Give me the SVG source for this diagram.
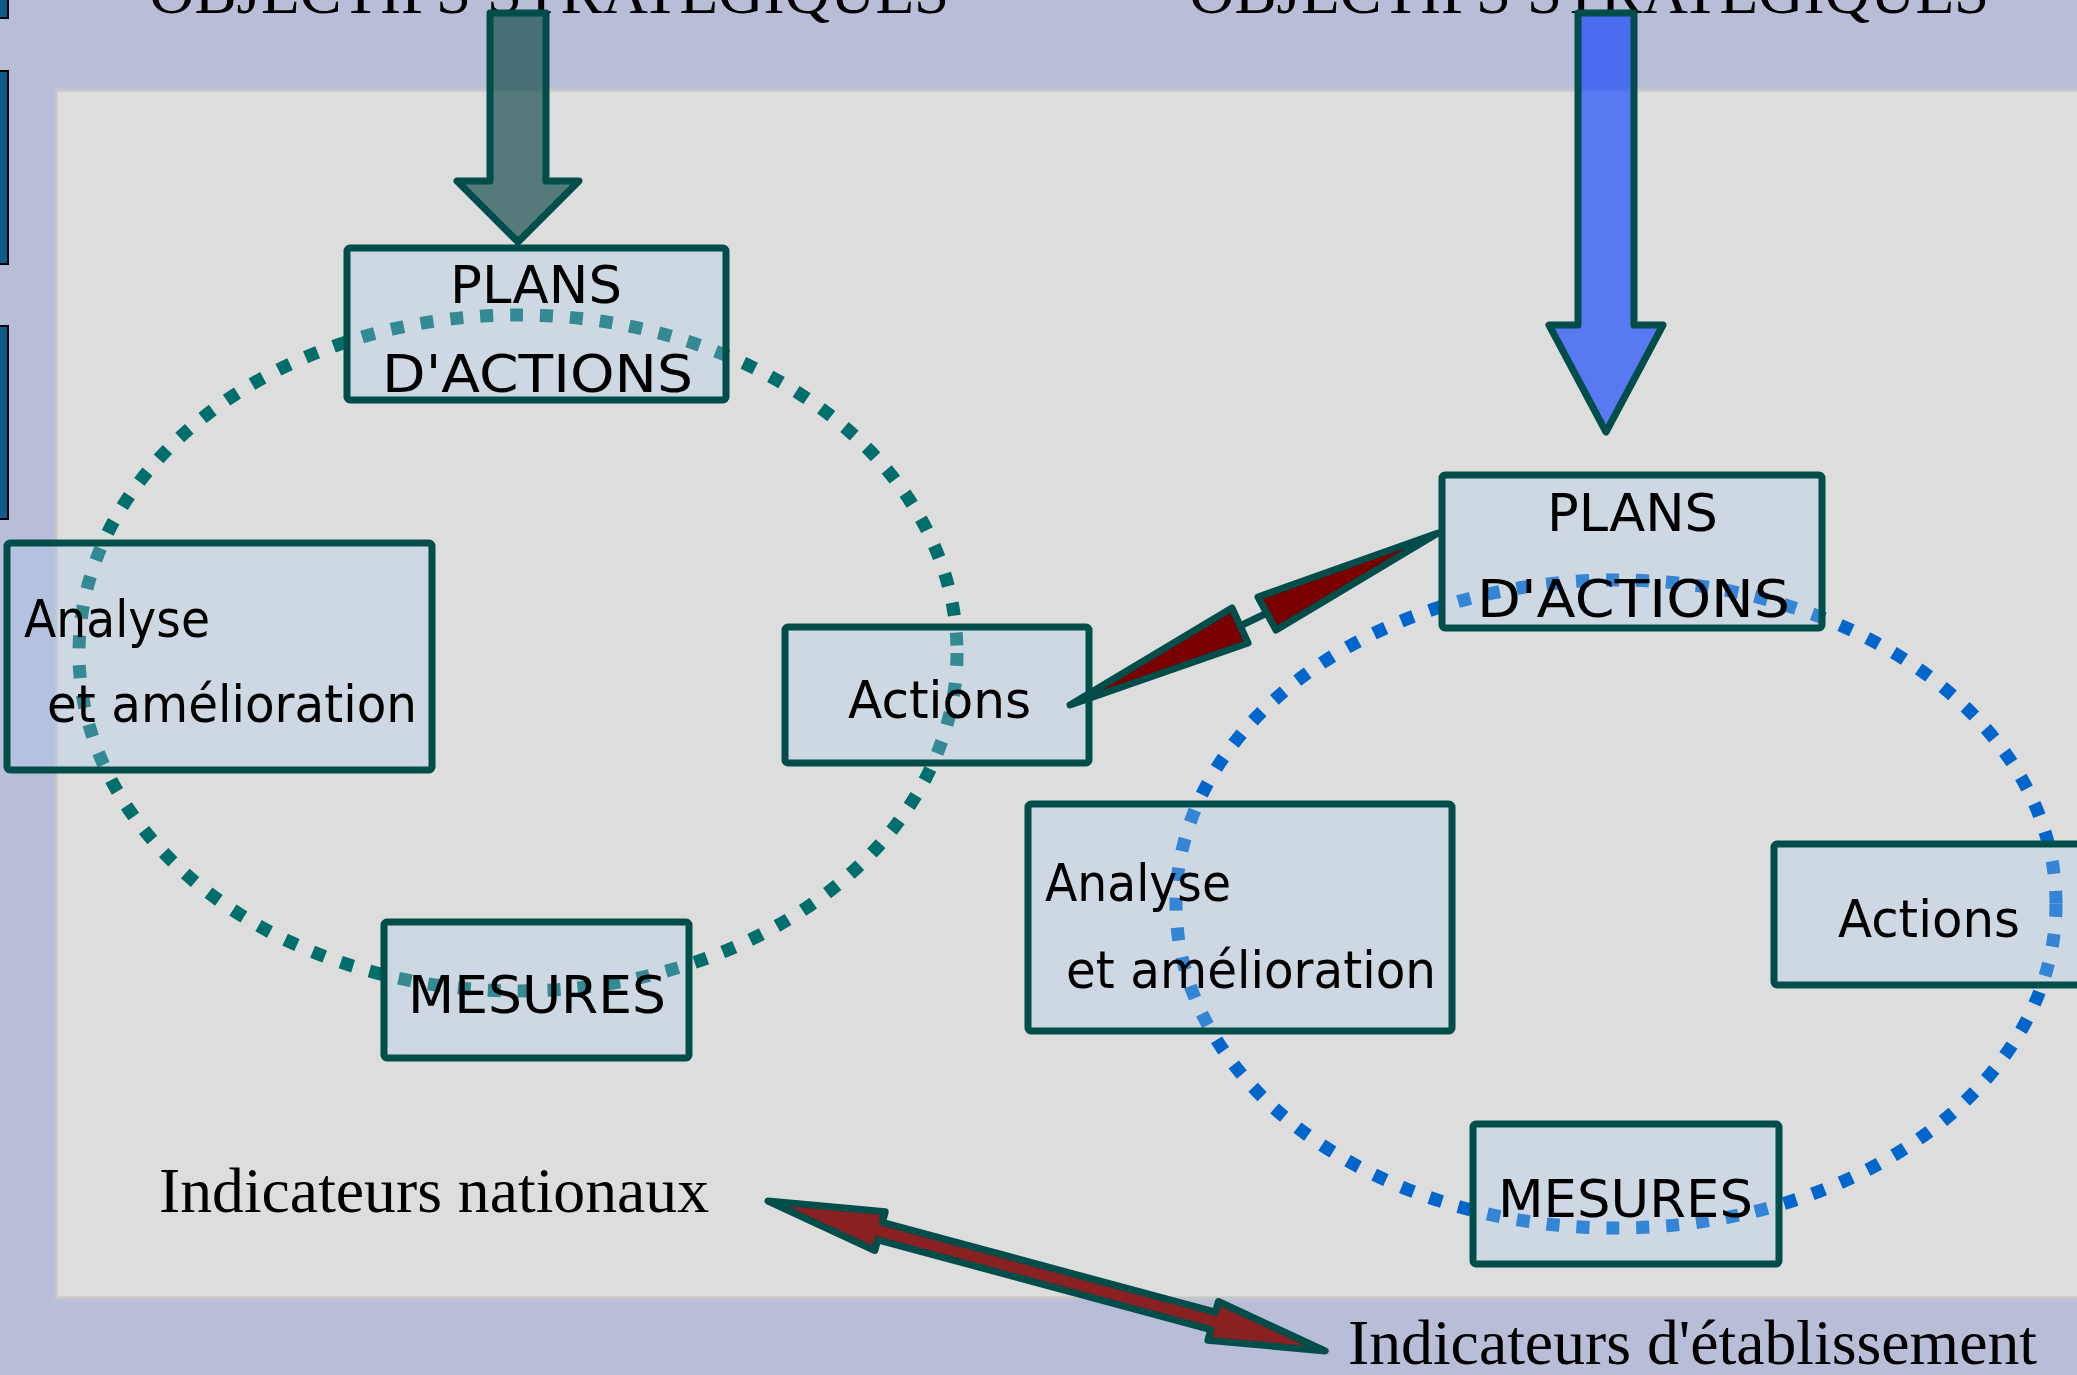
<svg xmlns="http://www.w3.org/2000/svg" width="2077" height="1375" viewBox="0 0 2077 1375">
<style>
.box{fill:#A8CCF0;fill-opacity:0.3;stroke:#004D4A;stroke-width:7;stroke-linejoin:round}
.lbl{font-family:"DejaVu Sans","Noto Sans",sans-serif;font-size:52px;fill:#000}
.ser{font-family:"Liberation Serif","Times New Roman",serif;font-size:63px;fill:#000}
.dotl{fill:none;stroke:#006E6B;stroke-width:13;stroke-dasharray:13 17}
.dotr{fill:none;stroke:#0066CC;stroke-width:13;stroke-dasharray:13 17}
.arr{stroke:#004D4A;stroke-width:7;stroke-linejoin:round}
.side{fill:#105A8C;stroke:#000;stroke-width:2}
</style>
<rect width="2077" height="1375" fill="#B9BED8"/>
<rect x="56" y="90" width="2030" height="1208" fill="#DDDDDD" stroke="#C6C6C6" stroke-width="3"/>
<g id="side-bars">
<rect class="side" x="-4" y="-10" width="12" height="28"/>
<rect class="side" x="-4" y="71" width="12" height="193"/>
<rect class="side" x="-4" y="326" width="12" height="193"/>
</g>
<g id="titles">
<text class="ser" x="149" y="13" textLength="800" lengthAdjust="spacingAndGlyphs">OBJECTIFS STRATEGIQUES</text>
<text class="ser" x="1189" y="13" textLength="800" lengthAdjust="spacingAndGlyphs">OBJECTIFS STRATEGIQUES</text>
</g>
<g id="connectors">
<polygon class="arr" fill="#003F3B" fill-opacity="0.62" points="490,13 546,13 546,181 579,181 518,242 457,181 490,181"/>
<polygon class="arr" fill="#0037FF" fill-opacity="0.6" points="1578,13 1634,13 1634,325 1663,325 1606,432 1549,325 1578,325"/>
<ellipse class="dotl" cx="518" cy="653" rx="439" ry="338"/>
<ellipse class="dotr" cx="1616" cy="904" rx="440" ry="324"/>
</g>
<g id="left-plans"><rect class="box" x="347" y="248" width="379" height="152" rx="3"/>
<text class="lbl" x="450" y="303" textLength="172" lengthAdjust="spacingAndGlyphs">PLANS</text>
<text class="lbl" x="382" y="392" textLength="311" lengthAdjust="spacingAndGlyphs">D'ACTIONS</text></g>
<g id="left-analyse"><rect class="box" x="7" y="543" width="425" height="227" rx="3"/>
<text class="lbl" x="24" y="637" textLength="186" lengthAdjust="spacingAndGlyphs">Analyse</text>
<text class="lbl" x="47" y="722" textLength="370" lengthAdjust="spacingAndGlyphs">et amélioration</text></g>
<g id="left-actions"><rect class="box" x="785" y="627" width="304" height="136" rx="3"/>
<text class="lbl" x="848" y="718" textLength="183" lengthAdjust="spacingAndGlyphs">Actions</text></g>
<g id="left-mesures"><rect class="box" x="384" y="922" width="305" height="136" rx="3"/>
<text class="lbl" x="408" y="1013" textLength="258" lengthAdjust="spacingAndGlyphs">MESURES</text></g>
<g id="right-plans"><rect class="box" x="1442" y="475" width="380" height="153" rx="3"/>
<text class="lbl" x="1547" y="531" textLength="171" lengthAdjust="spacingAndGlyphs">PLANS</text>
<text class="lbl" x="1477" y="617" textLength="313" lengthAdjust="spacingAndGlyphs">D'ACTIONS</text></g>
<g id="right-analyse"><rect class="box" x="1028" y="804" width="424" height="227" rx="3"/>
<text class="lbl" x="1045" y="901" textLength="186" lengthAdjust="spacingAndGlyphs">Analyse</text>
<text class="lbl" x="1066" y="988" textLength="370" lengthAdjust="spacingAndGlyphs">et amélioration</text></g>
<g id="right-actions"><rect class="box" x="1774" y="844" width="320" height="141" rx="3"/>
<text class="lbl" x="1838" y="937" textLength="182" lengthAdjust="spacingAndGlyphs">Actions</text></g>
<g id="right-mesures"><rect class="box" x="1473" y="1124" width="306" height="140" rx="3"/>
<text class="lbl" x="1498" y="1217" textLength="255" lengthAdjust="spacingAndGlyphs">MESURES</text></g>
<g id="links">
<line x1="1240" y1="626" x2="1267" y2="613" stroke="#004D4A" stroke-width="7"/>
<polygon class="arr" fill="#7A0000" points="1070,705 1232,608 1248,643"/>
<polygon class="arr" fill="#7A0000" points="1438,533 1258,597 1276,630"/>
<polygon class="arr" fill="#892022" transform="translate(768,1201) rotate(15.07)" points="0,0 116,-20 116,-9 461,-9 461,-20 577,0 461,20 461,9 116,9 116,20"/>
</g>
<g id="indicators">
<text class="ser" x="159" y="1212" textLength="550" lengthAdjust="spacingAndGlyphs">Indicateurs nationaux</text>
<text class="ser" x="1348" y="1364" textLength="689" lengthAdjust="spacingAndGlyphs">Indicateurs d'établissement</text>
</g>
</svg>
